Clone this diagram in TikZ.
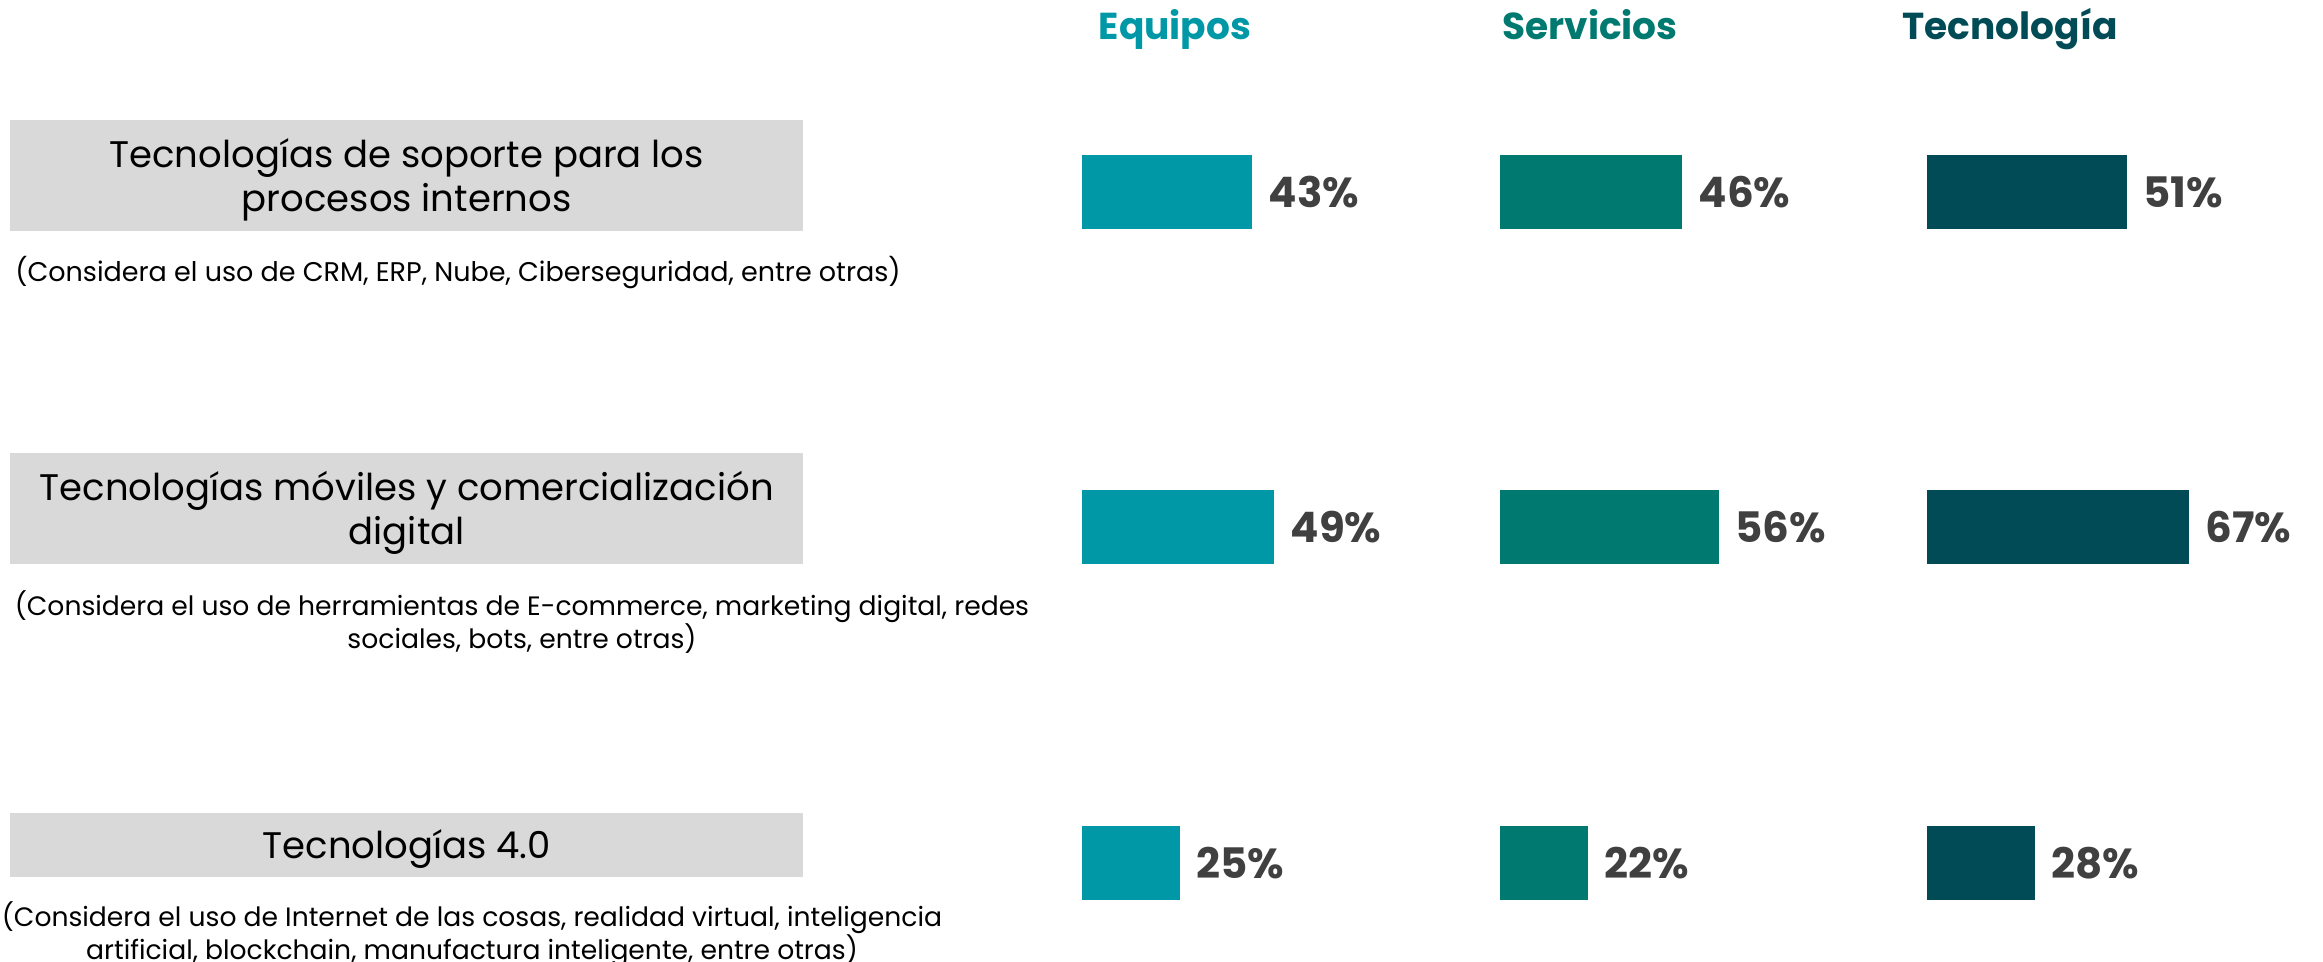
\documentclass[tikz,border=0pt]{standalone}
\usepackage{fontspec}
\setmainfont{Poppins}
\definecolor{boxgray}{HTML}{D9D9D9}
\definecolor{pctgray}{HTML}{404040}
\definecolor{cEq}{HTML}{0098A6}
\definecolor{cSe}{HTML}{007A70}
\definecolor{cTe}{HTML}{004B55}
\tikzset{
  bar/.style={minimum height=74pt, inner sep=0pt, anchor=north west},
  pct/.style={font=\bfseries\fontsize{42}{50}\selectfont, text=pctgray, anchor=west, inner sep=0pt, xshift=16pt},
  cat/.style={fill=boxgray, anchor=north west, minimum width=793pt, inner sep=0pt},
  cattext/.style={align=center, inner sep=0pt, yshift=-4pt, font=\fontsize{37}{44}\selectfont},
  sub/.style={align=center, inner sep=0pt},
  hdr/.style={font=\bfseries\fontsize{37.5}{44}\selectfont, anchor=base, inner sep=0pt}
}
\begin{document}
\begin{tikzpicture}[x=1pt,y=-1pt]
\useasboundingbox (0,0) rectangle (2323,961);
% headers
\node[hdr, text=cEq] (hEq) at (1175,39) {Equipos};
\node[hdr, text=cSe] (hSe) at (1590,39) {Servicios};
\node[hdr, text=cTe] (hTe) at (2010,39) {Tecnología};
% categories
\node[cat, minimum height=111pt] (c1) at (10,120) {};
\node[cattext] (t1) at (c1.center) {Tecnologías de soporte para los\\procesos internos};
\node[sub, font=\fontsize{27}{32}\selectfont] (s1) at (458,273) {(Considera el uso de CRM, ERP, Nube, Ciberseguridad, entre otras)};
\node[cat, minimum height=111pt] (c2) at (10,453) {};
\node[cattext] (t2) at (c2.center) {Tecnologías móviles y comercialización\\digital};
\node[sub, font=\fontsize{26.6}{32}\selectfont] (s2) at (522,622) {(Considera el uso de herramientas de E-commerce, marketing digital, redes\\sociales, bots, entre otras)};
\node[cat, minimum height=64pt] (c3) at (10,813) {};
\node[cattext] (t3) at (c3.center) {Tecnologías 4.0};
\node[sub, font=\fontsize{26.6}{32}\selectfont] (s3) at (472,934) {(Considera el uso de Internet de las cosas, realidad virtual, inteligencia\\artificial, blockchain, manufactura inteligente, entre otras)};
% row 1
\node[bar, fill=cEq, minimum width=170pt] (b11) at (1082,155) {};
\node[pct] (p11) at (b11.east) {43\%};
\node[bar, fill=cSe, minimum width=182pt] (b12) at (1500,155) {};
\node[pct] (p12) at (b12.east) {46\%};
\node[bar, fill=cTe, minimum width=200pt] (b13) at (1927,155) {};
\node[pct] (p13) at (b13.east) {51\%};
% row 2
\node[bar, fill=cEq, minimum width=192pt] (b21) at (1082,490) {};
\node[pct] (p21) at (b21.east) {49\%};
\node[bar, fill=cSe, minimum width=219pt] (b22) at (1500,490) {};
\node[pct] (p22) at (b22.east) {56\%};
\node[bar, fill=cTe, minimum width=262pt] (b23) at (1927,490) {};
\node[pct] (p23) at (b23.east) {67\%};
% row 3
\node[bar, fill=cEq, minimum width=98pt] (b31) at (1082,826) {};
\node[pct] (p31) at (b31.east) {25\%};
\node[bar, fill=cSe, minimum width=88pt] (b32) at (1500,826) {};
\node[pct] (p32) at (b32.east) {22\%};
\node[bar, fill=cTe, minimum width=108pt] (b33) at (1927,826) {};
\node[pct] (p33) at (b33.east) {28\%};
\end{tikzpicture}
\end{document}
